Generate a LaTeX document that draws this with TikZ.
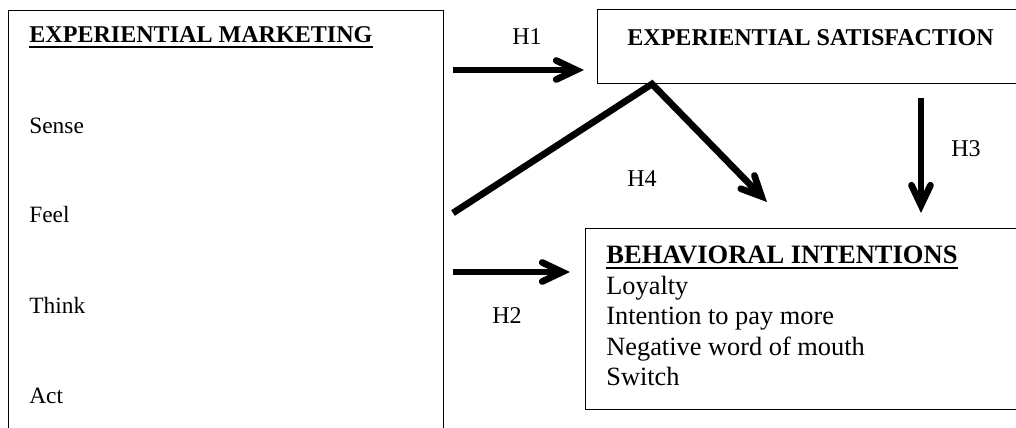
\documentclass[tikz,border=0pt]{standalone}
\usepackage{fontspec}
\setmainfont{Liberation Serif}
\usetikzlibrary{arrows.meta}
\tikzset{
	box/.style={draw, line width=0.6pt, anchor=north west, inner sep=0pt},
	txt/.style={inner sep=0pt, anchor=base west, font=\fontsize{13.3}{16}\selectfont},
	head/.style={inner sep=0pt, font=\bfseries\fontsize{13.7}{16}\selectfont},
	item/.style={inner sep=0pt, anchor=base west, font=\fontsize{15}{18}\selectfont},
	hyp/.style={inner sep=0pt, anchor=base, font=\fontsize{13.7}{16}\selectfont},
	arr/.style={line width=3.8pt, -{Straight Barb[length=4mm, width=3.8mm, line cap=round]}}
}

\begin{document}
\begin{tikzpicture}
		\useasboundingbox (0,0) rectangle (20.32,-8.54);
		\clip (0,0) rectangle (20.32,-8.54);

		% Boxes
		\node[box, minimum width=8.7cm, minimum height=8.4cm] (mkt) at (0.16,-0.2) {};
		\node[box, minimum width=8.7cm, minimum height=1.48cm] (sat) at (11.94,-0.18) {};
		\node[box, minimum width=8.9cm, minimum height=3.62cm] (beh) at (11.7,-4.56) {};

		% Experiential marketing
		\node[head, anchor=base west] (mkttitle) at (0.58,-0.854) {EXPERIENTIAL MARKETING};
		\draw[line width=1.1pt] ([yshift=-2.6pt]mkttitle.base west) -- ([yshift=-2.6pt]mkttitle.base east);
		\node[txt] (sense) at (0.58,-2.66) {Sense};
		\node[txt] (feel) at (0.58,-4.44) {Feel};
		\node[txt] (think) at (0.58,-6.26) {Think};
		\node[txt] (act) at (0.58,-8.06) {Act};

		% Experiential satisfaction
		\node[head, anchor=base] (sattitle) at (16.21,-0.9) {EXPERIENTIAL SATISFACTION};

		% Behavioral intentions
		\node[item, font=\bfseries\fontsize{15.1}{18}\selectfont] (behtitle) at (12.12,-5.26) {BEHAVIORAL INTENTIONS};
		\draw[line width=1.1pt] ([yshift=-2.8pt]behtitle.base west) -- ([yshift=-2.8pt]behtitle.base east);
		\node[item] (loyal) at (12.12,-5.88) {Loyalty};
		\node[item] (pay) at (12.12,-6.48) {Intention to pay more};
		\node[item] (wom) at (12.12,-7.1) {Negative word of mouth};
		\node[item] (switch) at (12.12,-7.7) {Switch};

		% Arrow ends
		\coordinate (h1a) at (9.06,-1.4);
		\coordinate (h1b) at (11.68,-1.4);
		\coordinate (h2a) at (9.06,-5.44);
		\coordinate (h2b) at (11.4,-5.44);
		\coordinate (h3a) at (18.42,-1.96);
		\coordinate (h3b) at (18.42,-4.26);
		\coordinate (h4a) at (9.06,-4.26);
		\coordinate (h4m) at (13.04,-1.68);
		\coordinate (h4b) at (15.34,-4.04);

		% Hypotheses
		\draw[arr] (h1a) -- (h1b);
		\draw[arr] (h2a) -- (h2b);
		\draw[arr] (h3a) -- (h3b);
		\draw[arr] (h4a) -- (h4m) -- (h4b);

		\node[hyp] (lh1) at (10.54,-0.88) {H1};
		\node[hyp] (lh2) at (10.14,-6.46) {H2};
		\node[hyp] (lh3) at (19.32,-3.12) {H3};
		\node[hyp] (lh4) at (12.84,-3.72) {H4};
	\end{tikzpicture}
\end{document}
